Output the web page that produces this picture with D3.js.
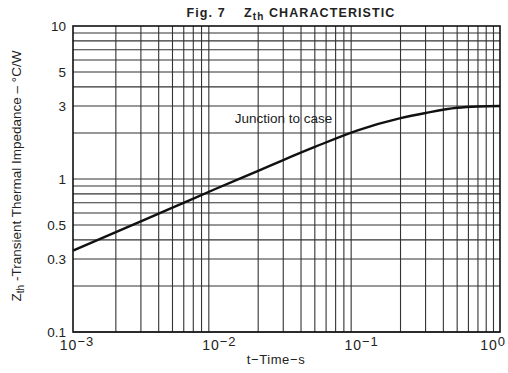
<!DOCTYPE html>
<html>
<head>
<meta charset="utf-8">
<script src="https://cdn.jsdelivr.net/npm/d3@7"></script>
<style>
  body { margin: 0; background: #fff; }
  svg text { font-family: "Liberation Sans", Arial, sans-serif; fill: #222; white-space: pre; }
</style>
</head>
<body>
<div id="chart"></div>
<script>
// curve
var timeValues = [0.001, 0.002, 0.005, 0.01, 0.02, 0.03, 0.05, 0.1, 0.2, 0.3, 0.5, 0.7, 1];
var zthValues = [0.34, 0.45, 0.65, 0.86, 1.13, 1.33, 1.62, 2.08, 2.5, 2.7, 2.92, 2.98, 3.0];
var yTickLabels = [10, 5, 3, 1, 0.5, 0.3, 0.1];
var xTickExponents = [-3, -2, -1, 0];

var width = 508, height = 373;
var margin = { top: 26, right: 8, bottom: 41, left: 73 };
var w = width - margin.left - margin.right,
    h = height - margin.top - margin.bottom;

var svg = d3.select("#chart").append("svg")
    .attr("width", width)
    .attr("height", height);

var g = svg.append("g")
    .attr("transform", "translate(" + margin.left + "," + margin.top + ")");

var xScale = d3.scaleLog().domain([0.001, 1]).range([0, w]);
var yScale = d3.scaleLog().domain([0.1, 10]).range([h, 0]);

// log grid, 1..9 per decade
var xGrid = [], yGrid = [];
for (var e = -3; e < 0; e++) {
    for (var k = 2; k <= 9; k++) xGrid.push(k * Math.pow(10, e));
}
for (var e2 = -1; e2 < 1; e2++) {
    for (var k2 = 1; k2 <= 9; k2++) yGrid.push(k2 * Math.pow(10, e2));
}

g.selectAll(".vgrid").data(xGrid).enter().append("line")
    .attr("x1", function (d) { return xScale(d); })
    .attr("x2", function (d) { return xScale(d); })
    .attr("y1", 0).attr("y2", h)
    .attr("stroke", "#333").attr("stroke-width", 1.1);

g.selectAll(".hgrid").data(yGrid).enter().append("line")
    .attr("x1", 0).attr("x2", w)
    .attr("y1", function (d) { return yScale(d); })
    .attr("y2", function (d) { return yScale(d); })
    .attr("stroke", "#333").attr("stroke-width", 1.1);

// frame
g.append("rect")
    .attr("width", w).attr("height", h)
    .attr("fill", "none").attr("stroke", "#111").attr("stroke-width", 1.6);

// curve
var line = d3.line()
    .x(function (d, i) { return xScale(timeValues[i]); })
    .y(function (d) { return yScale(d); })
    .curve(d3.curveMonotoneX);

g.append("path")
    .datum(zthValues)
    .attr("fill", "none")
    .attr("stroke", "#111")
    .attr("stroke-width", 2.4)
    .attr("d", line);

// y tick labels
var yAxis = d3.axisLeft(yScale)
    .tickValues(yTickLabels)
    .tickSize(0)
    .tickPadding(7)
    .tickFormat(d3.format("~g"));
var ya = g.append("g").call(yAxis);
ya.select(".domain").remove();
ya.selectAll("text").style("font-size", "13.5px").attr("fill", "#222");

// x tick labels with superscripts
var xl = g.selectAll(".xlab").data(xTickExponents).enter().append("text")
    .attr("x", function (d) { return d === 0 ? xScale(1) + 6 : xScale(Math.pow(10, d)) + 4; })
    .attr("y", h + 18)
    .attr("text-anchor", function (d) { return d === 0 ? "end" : "middle"; })
    .style("font-size", "14px")
    .style("letter-spacing", "1px");
xl.append("tspan").text("10");
xl.append("tspan").attr("dy", -4).style("font-size", "13px")
    .text(function (d) { return d === 0 ? "0" : "\u2212" + (-d); });

// axis titles
svg.append("text")
    .attr("x", 276)
    .attr("y", 364)
    .attr("text-anchor", "middle")
    .style("font-size", "13px")
    .style("letter-spacing", "0.6px")
    .text("t\u2212Time\u2212s");

var yt = svg.append("text")
    .attr("transform", "translate(21," + 176 + ") rotate(-90)")
    .attr("text-anchor", "middle")
    .style("font-size", "13.5px");
yt.append("tspan").text("Z");
yt.append("tspan").attr("dy", 3).style("font-size", "10px").text("th");
yt.append("tspan").attr("dy", -3).text(" -Transient Thermal Impedance \u2013 \u00b0C/W");

// title
var title = svg.append("text")
    .attr("x", 291).attr("y", 17)
    .attr("text-anchor", "middle")
    .style("font-size", "12.5px")
    .style("font-weight", "bold")
    .style("letter-spacing", "1.1px");
title.append("tspan").text("Fig. 7    Z");
title.append("tspan").attr("dy", 3).style("font-size", "10px").text("th");
title.append("tspan").attr("dy", -3).text(" CHARACTERISTIC");

// curve annotation
g.append("text")
    .attr("x", xScale(0.0137))
    .attr("y", yScale(2.33))
    .style("font-size", "13.5px")
    .text("Junction to case");
</script>
</body>
</html>
